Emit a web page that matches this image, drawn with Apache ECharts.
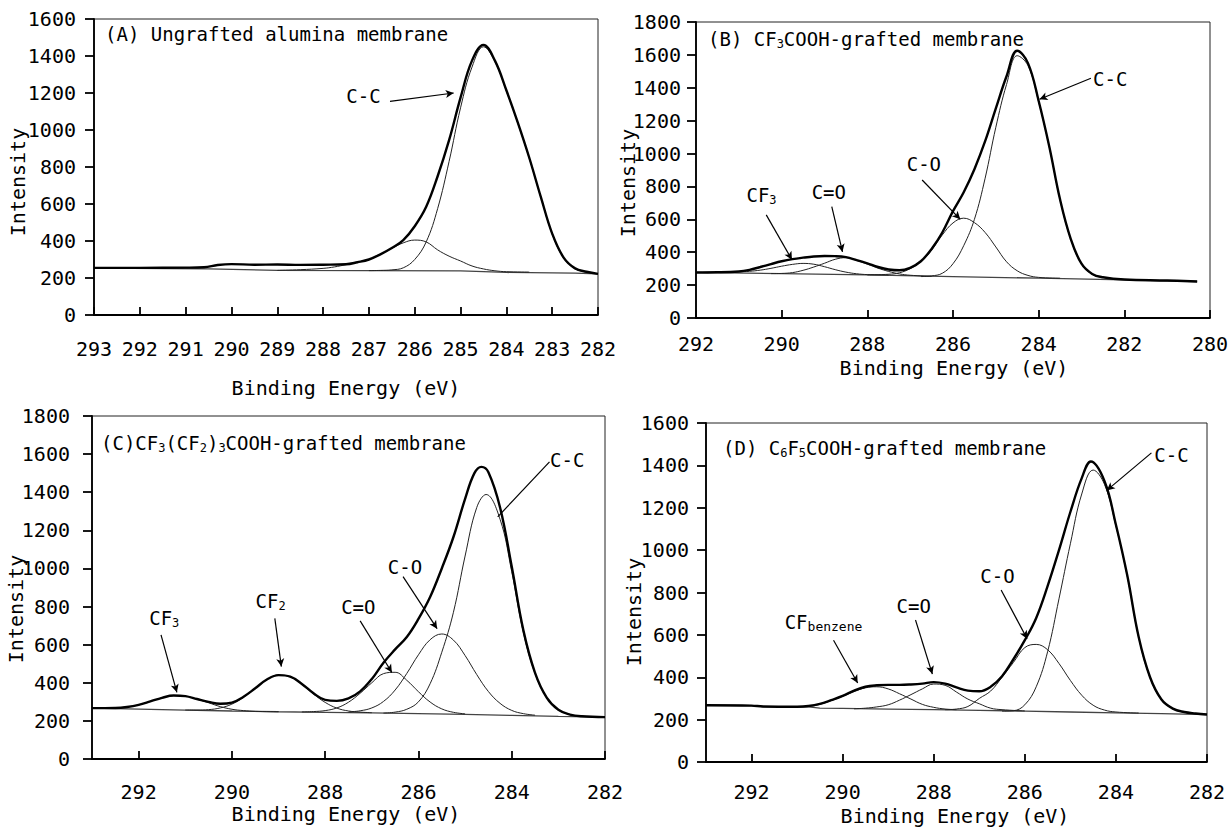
<!DOCTYPE html>
<html><head><meta charset="utf-8">
<script src="https://cdn.jsdelivr.net/npm/echarts@6/dist/echarts.min.js"></script>
<style>html,body{margin:0;padding:0;background:#fff}#c{width:1228px;height:830px}</style>
</head><body><div id="c"></div>
<script>
// ---------- DATA (binding energy eV, intensity) ----------
const A_total = [[293,255],[292,255],[291,256],[290.6,258],[290.3,270],[290,275],[289.5,272],[289,273],[288.5,271],[288,272],[287.5,274],[287.25,285],[287,300],[286.75,328],[286.5,362],[286.25,405],[286,480],[285.75,585],[285.5,750],[285.25,945],[285,1175],[284.75,1375],[284.5,1460],[284.25,1375],[284,1215],[283.75,1040],[283.5,850],[283.25,640],[283,440],[282.75,310],[282.5,252],[282.25,234],[282,222]];
const A_cc = [[287,240],[286.75,241],[286.5,244],[286.25,255],[286,300],[285.75,395],[285.5,575],[285.25,830],[285,1120],[284.75,1340],[284.5,1450],[284.25,1370],[284,1211],[283.75,1037],[283.5,847],[283.25,638],[283,438],[282.75,308],[282.5,250],[282.25,232],[282,222]];
const A_hump = [[289,242],[288.5,245],[288,252],[287.75,260],[287.5,272],[287.25,285],[287,300],[286.75,328],[286.5,360],[286.25,390],[286,405],[285.75,395],[285.5,352],[285.25,318],[285,292],[284.75,265],[284.5,249],[284.25,239],[284,234],[283.5,232]];
const A_base = [[293,254],[290.5,249],[289,241],[287,240],[285,238],[284.5,235],[284,230],[283,228],[282.5,226],[282,222]];

const B_total = [[292,277],[291.5,278],[291,283],[290.75,293],[290.5,310],[290.25,328],[290,345],[289.75,358],[289.5,367],[289.25,374],[289,377],[288.75,376],[288.5,370],[288.25,352],[288,332],[287.75,310],[287.5,295],[287.25,290],[287,305],[286.75,345],[286.5,420],[286.25,520],[286,650],[285.75,765],[285.5,905],[285.25,1075],[285,1275],[284.75,1470],[284.5,1625],[284.25,1550],[284,1320],[283.75,1040],[283.5,720],[283.25,480],[283,330],[282.75,268],[282.5,248],[282,234],[281,228],[280.3,222]];
const B_cf3 = [[291.25,279],[291,281],[290.75,284],[290.5,291],[290.25,302],[290,315],[289.75,326],[289.5,332],[289.25,327],[289,312],[288.75,294],[288.5,279],[288.25,269],[288,264],[287.5,261]];
const B_co2 = [[290.25,270],[290,271],[289.75,276],[289.5,290],[289.25,310],[289,333],[288.75,357],[288.5,367],[288.25,350],[288,328],[287.75,303],[287.5,283],[287.25,268],[287,260],[286.5,253]];
const B_co = [[288,262],[287.5,266],[287.25,275],[287,300],[286.75,343],[286.5,412],[286.25,505],[286,578],[285.75,607],[285.5,580],[285.25,520],[285,432],[284.75,342],[284.5,287],[284.25,259],[284,247],[283.5,242]];
const B_cc = [[286.75,252],[286.5,256],[286.25,272],[286,330],[285.75,440],[285.5,600],[285.25,850],[285,1160],[284.75,1420],[284.5,1595],[284.25,1535],[284,1315],[283.75,1037],[283.5,718],[283.25,478],[283,328],[282.75,266],[282.5,247],[282,234]];
const B_base = [[292,277],[290,270],[288,262],[286,252],[284,242],[282,232],[280.3,222]];

const C_total = [[293,267],[292.5,268],[292.25,273],[292,284],[291.75,302],[291.5,321],[291.25,333],[291,330],[290.75,315],[290.5,300],[290.25,290],[290,296],[289.75,327],[289.5,371],[289.25,417],[289,440],[288.75,432],[288.5,394],[288.25,345],[288,310],[287.75,305],[287.5,318],[287.25,355],[287,420],[286.75,505],[286.5,575],[286.25,640],[286,735],[285.75,850],[285.5,1000],[285.25,1165],[285,1365],[284.8,1500],[284.65,1533],[284.5,1505],[284.25,1320],[284,1010],[283.75,675],[283.5,452],[283.25,322],[283,258],[282.75,233],[282.5,224],[282,220]];
const C_cf3 = [[293,267],[292.75,266],[292.5,268],[292.25,273],[292,284],[291.75,302],[291.5,321],[291.25,333],[291,330],[290.75,314],[290.5,295],[290.25,275],[290,261],[289.75,254],[289.5,250],[289,248]];
const C_cf2 = [[291,257],[290.75,257],[290.5,259],[290.25,268],[290,288],[289.75,324],[289.5,371],[289.25,417],[289,441],[288.75,431],[288.5,392],[288.25,341],[288,297],[287.75,267],[287.5,252],[287.25,246],[287,243]];
const C_co2 = [[288.5,247],[288.25,249],[288,254],[287.75,268],[287.5,298],[287.25,345],[287,400],[286.75,448],[286.5,455],[286.25,413],[286,353],[285.75,299],[285.5,263],[285.25,245],[285,237]];
const C_co = [[287.5,247],[287.25,253],[287,268],[286.75,302],[286.5,362],[286.25,449],[286,547],[285.75,626],[285.5,656],[285.25,624],[285,543],[284.75,443],[284.5,354],[284.25,292],[284,255],[283.75,238],[283.5,230]];
const C_cc = [[286.75,241],[286.5,246],[286.25,261],[286,300],[285.75,395],[285.5,560],[285.25,770],[285,1065],[284.75,1320],[284.55,1388],[284.25,1258],[284,983],[283.75,664],[283.5,449],[283.25,321],[283,258],[282.75,233],[282.5,224],[282,220]];
const C_base = [[293,267],[292,262],[291,257],[290,252],[289,248],[288,245],[287,242],[286,238],[285,234],[284,229],[283,224],[282,220]];

const D_total = [[293,268],[292,266],[291.75,262],[291,261],[290.75,264],[290.5,274],[290.25,292],[290,312],[289.75,337],[289.5,355],[289.25,362],[289,364],[288.75,364],[288.5,366],[288.25,370],[288,377],[287.75,370],[287.5,352],[287.25,337],[287,334],[286.75,355],[286.5,405],[286.25,485],[286,575],[285.75,680],[285.5,830],[285.25,1000],[285,1180],[284.75,1340],[284.55,1418],[284.25,1325],[284,1120],[283.75,880],[283.5,590],[283.25,400],[283,295],[282.75,252],[282.5,236],[282.25,229],[282,224]];
const D_cfb = [[291,260],[290.75,262],[290.5,272],[290.25,290],[290,310],[289.75,332],[289.5,350],[289.25,355],[289,345],[288.75,322],[288.5,297],[288.25,272],[288,258],[287.75,250],[287.5,247]];
const D_co2 = [[289.75,251],[289.5,254],[289.25,260],[289,270],[288.75,292],[288.5,318],[288.25,345],[288,368],[287.75,362],[287.5,330],[287.25,297],[287,275],[286.75,254],[286.5,247],[286,241]];
const D_co = [[287.75,247],[287.5,250],[287.25,262],[287,300],[286.75,335],[286.5,400],[286.25,470],[286,540],[285.75,555],[285.5,530],[285.25,465],[285,385],[284.75,315],[284.5,268],[284.25,245],[284,236],[283.5,231]];
const D_cc = [[286.5,240],[286.25,242],[286,270],[285.75,355],[285.5,520],[285.25,770],[285,1030],[284.75,1265],[284.5,1378],[284.25,1310],[284,1115],[283.75,876],[283.5,588],[283.25,398],[283,294],[282.75,251],[282.5,235],[282.25,227],[282,224]];
const D_base = [[293,268],[292,266],[291.75,262],[290.75,260],[290.5,254],[290,253],[289,250],[288,247],[287,244],[286,240],[285,236],[284,232],[283,228],[282,224]];

// annotation texts with label point and arrow (data coordinates)
const annA = [{t:'{m|C-C}', at:[287.12,1182], from:[286.54,1155], to:[285.15,1200], head:true}];
const annB = [
  {t:'{m|CF}{s|3}', at:[290.47,748], from:[290.36,627], to:[289.76,354], head:true},
  {t:'{m|C=O}', at:[288.9,765], from:[288.83,677], to:[288.58,402], head:true},
  {t:'{m|C-O}', at:[286.68,938], from:[286.72,839], to:[285.83,600], head:true},
  {t:'{m|C-C}', at:[282.33,1455], from:[282.78,1458], to:[283.98,1330], head:true}
];
const annC = [
  {t:'{m|CF}{s|3}', at:[291.45,740], from:[291.52,651], to:[291.18,350], head:true},
  {t:'{m|CF}{s|2}', at:[289.17,830], from:[289.08,738], to:[288.94,485], head:true},
  {t:'{m|C=O}', at:[287.29,800], from:[287.25,725], to:[286.57,454], head:true},
  {t:'{m|C-O}', at:[286.29,1008], from:[286.33,957], to:[285.6,684], head:true},
  {t:'{m|C-C}', at:[282.81,1571], from:[283.19,1559], to:[284.3,1271], head:false}
];
const annD = [
  {t:'{m|CF}{b|benzene}', at:[290.42,662], from:[290.2,575], to:[289.67,373], head:true},
  {t:'{m|C=O}', at:[288.44,735], from:[288.4,670], to:[288.03,415], head:true},
  {t:'{m|C-O}', at:[286.6,880], from:[286.52,812], to:[285.95,582], head:true},
  {t:'{m|C-C}', at:[282.78,1451], from:[283.22,1459], to:[284.2,1282], head:true}
];

const xTicksA = {min:282, max:293, interval:1};
const xTicksB = {min:280, max:292, interval:2};
const xTicksCD = {min:282, max:293, interval:2};

// ---------- LAYOUT / STYLE ----------
const FONT = '"DejaVu Sans Mono","Liberation Mono",monospace';
const rich = {
  m:{fontFamily:FONT, fontSize:19, color:'#000', lineHeight:22},
  s:{fontFamily:FONT, fontSize:12, color:'#000', lineHeight:10, verticalAlign:'bottom'},
  b:{fontFamily:FONT, fontSize:13, color:'#000', lineHeight:10, verticalAlign:'bottom'}
};
const panels = [
  {grid:{left:94, top:19, width:504, height:296}, xt:xTicksA, ymax:1600, ylm:18, xlm:26, showMax:true,
   title:'{m|(A) Ungrafted alumina membrane}', tpos:[105,23], xname:[346,388], yname:[18,182],
   total:A_total, comps:[A_cc, A_hump], base:A_base, ann:annA},
  {grid:{left:696, top:22, width:514, height:296}, xt:xTicksB, ymax:1800, ylm:15, xlm:18, showMax:true,
   title:'{m|(B) CF}{s|3}{m|COOH-grafted membrane}', tpos:[708,28], xname:[954,368], yname:[628,183],
   total:B_total, comps:[B_cf3, B_co2, B_co, B_cc], base:B_base, ann:annB},
  {grid:{left:92, top:416, width:513, height:343}, xt:xTicksCD, ymax:1800, ylm:22, xlm:25, showMax:false,
   title:'{m|(C)CF}{s|3}{m|(CF}{s|2}{m|)}{s|3}{m|COOH-grafted membrane}', tpos:[101,432], xname:[346,814], yname:[16,609],
   total:C_total, comps:[C_cf3, C_cf2, C_co2, C_co, C_cc], base:C_base, ann:annC},
  {grid:{left:706, top:423, width:501, height:339}, xt:xTicksCD, ymax:1600, ylm:17, xlm:22, showMax:false,
   title:'{m|(D) C}{s|6}{m|F}{s|5}{m|COOH-grafted membrane}', tpos:[723,437], xname:[955,816], yname:[634,612],
   total:D_total, comps:[D_cfb, D_co2, D_co, D_cc], base:D_base, ann:annD}
];

const grids=[], xAxes=[], yAxes=[], series=[], titles=[], graphics=[];
panels.forEach((p,i)=>{
  grids.push(Object.assign({show:true, borderColor:'#222', borderWidth:1, backgroundColor:'transparent', containLabel:false, outerBoundsMode:'none'}, p.grid));
  xAxes.push({type:'value', gridIndex:i, min:p.xt.min, max:p.xt.max, interval:p.xt.interval, inverse:true,
    axisLine:{show:true, onZero:false, lineStyle:{color:'#000', width:1.8}},
    axisTick:{show:true, inside:true, length:8, lineStyle:{color:'#000', width:1.8}},
    axisLabel:{show:true, margin:p.xlm, fontFamily:FONT, fontSize:20, lineHeight:16, color:'#000', showMaxLabel:p.showMax, showMinLabel:true, hideOverlap:false, formatter:v=>String(v)},
    splitLine:{show:false}});
  yAxes.push({type:'value', gridIndex:i, min:0, max:p.ymax, interval:200,
    axisLine:{show:true, onZero:false, lineStyle:{color:'#000', width:1.8}},
    axisTick:{show:true, inside:false, length:9, lineStyle:{color:'#000', width:1.8}},
    axisLabel:{show:true, margin:p.ylm, fontFamily:FONT, fontSize:20, color:'#000', showMaxLabel:true, showMinLabel:true, formatter:v=>String(v)},
    splitLine:{show:false}});
  const common = {type:'line', xAxisIndex:i, yAxisIndex:i, symbol:'none', showSymbol:false, silent:true, animation:false};
  series.push(Object.assign({}, common, {data:p.base, smooth:false, z:2, lineStyle:{width:1.3, color:'#444'},
    markLine:{silent:true, animation:false, symbol:['none','arrow'], symbolSize:[6,8], label:{show:false},
      lineStyle:{color:'#000', width:1.2, type:'solid'},
      data:p.ann.map(a=>[{coord:a.from, symbol:'none'},{coord:a.to, symbol:a.head?'arrow':'none'}])},
    markPoint:{silent:true, animation:false, symbol:'rect', symbolSize:1, itemStyle:{color:'rgba(0,0,0,0)'},
      label:{show:true, position:'inside', rich:rich},
      data:p.ann.map(a=>({coord:a.at, label:{show:true, position:'inside', formatter:a.t, rich:rich}}))}
  }));
  p.comps.forEach(c=>series.push(Object.assign({}, common, {data:c, smooth:0.4, z:3, lineStyle:{width:1, color:'#222'}})));
  series.push(Object.assign({}, common, {data:p.total, smooth:0.4, z:4, lineStyle:{width:2.4, color:'#000'}}));
  titles.push({text:p.title, left:p.tpos[0], top:p.tpos[1], padding:0, textStyle:{rich:rich, fontFamily:FONT, fontSize:19, color:'#000', fontWeight:'normal'}});
  graphics.push({type:'text', x:p.xname[0], y:p.xname[1], silent:true,
    style:{text:'Binding Energy (eV)', font:'20px '+FONT, lineHeight:16, fill:'#000', textAlign:'center', textVerticalAlign:'middle', align:'center', verticalAlign:'middle'}});
  graphics.push({type:'text', x:p.yname[0], y:p.yname[1], rotation:Math.PI/2, silent:true,
    style:{text:'Intensity', font:'20px '+FONT, lineHeight:16, fill:'#000', textAlign:'center', textVerticalAlign:'middle', align:'center', verticalAlign:'middle'}});
});

const chart = echarts.init(document.getElementById('c'), null, {renderer:'svg', width:1228, height:830});
chart.setOption({
  backgroundColor:'#fff', animation:false,
  title:titles, grid:grids, xAxis:xAxes, yAxis:yAxes, series:series, graphic:graphics,
  tooltip:{show:false}, legend:{show:false}
});
</script>
</body></html>
